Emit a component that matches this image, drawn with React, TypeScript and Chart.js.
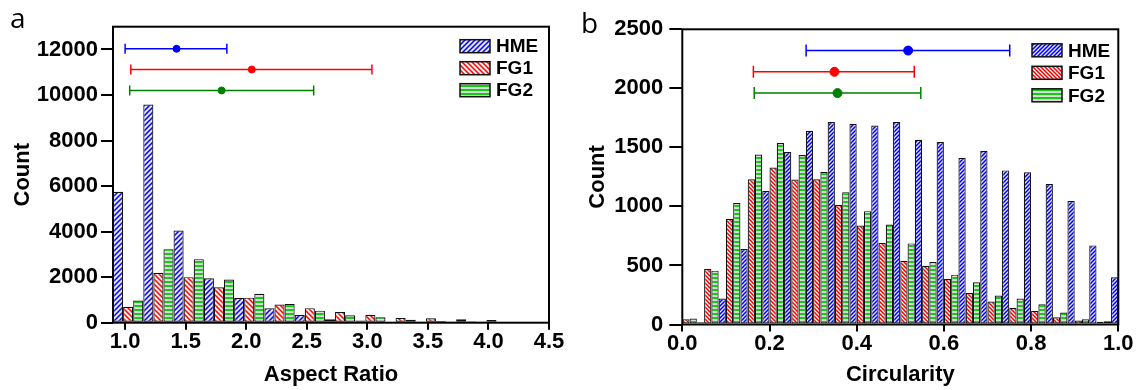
import React, { useEffect, useRef } from 'react';
import { Chart, registerables } from 'chart.js';
Chart.register(...registerables);

const SERIES = ['HME', 'FG1', 'FG2'];

// ---- Panel a: Aspect Ratio ----
const aspectBinCenters = [1.025, 1.275, 1.525, 1.775, 2.025, 2.275, 2.525, 2.775, 3.025, 3.275, 3.525, 3.775, 4.025];
const aspectHME = [5750, 9580, 4050, 1950, 1080, 630, 340, 150, 100, 40, 20, 10, 5];
const aspectFG1 = [700, 2180, 2000, 1560, 1100, 800, 640, 470, 350, 210, 190, 150, 120];
const aspectFG2 = [970, 3230, 2790, 1900, 1270, 820, 530, 325, 240, 130, 80, 60, 40];
const aspectXTicks = [1.0, 1.5, 2.0, 2.5, 3.0, 3.5, 4.0, 4.5];
const aspectYTicks = [0, 2000, 4000, 6000, 8000, 10000, 12000];
const aspectMean = [1.425, 2.046, 1.797];
const aspectLow = [1.0, 1.047, 1.038];
const aspectHigh = [1.84, 3.038, 2.557];
const aspectLevel = [12030, 11120, 10200];

// ---- Panel b: Circularity ----
const circBinCenters = [0.025, 0.075, 0.125, 0.175, 0.225, 0.275, 0.325, 0.375, 0.425, 0.475, 0.525, 0.575, 0.625, 0.675, 0.725, 0.775, 0.825, 0.875, 0.925, 0.975];
const circHME = [20, 220, 640, 1130, 1460, 1640, 1715, 1700, 1685, 1715, 1565, 1545, 1410, 1470, 1305, 1290, 1190, 1045, 670, 400];
const circFG1 = [45, 470, 895, 1230, 1330, 1228, 1230, 1012, 839, 690, 540, 498, 386, 267, 194, 141, 115, 62, 34, 23];
const circFG2 = [50, 456, 1028, 1440, 1537, 1436, 1292, 1121, 960, 847, 687, 529, 422, 358, 245, 220, 172, 101, 45, 28];
const circXTicks = [0, 0.2, 0.4, 0.6, 0.8, 1.0];
const circYTicks = [0, 500, 1000, 1500, 2000, 2500];
const circMean = [0.518, 0.349, 0.356];
const circLow = [0.284, 0.163, 0.165];
const circHigh = [0.751, 0.532, 0.547];
const circLevel = [2320, 2140, 1960];

const FONT = '"Liberation Sans", Arial, sans-serif';
const STRIPE = { HME: '#0000ff', FG1: '#ff0000', FG2: '#11cc11' } as Record<string, string>;
const ERR = ['#0000ff', '#ff0000', '#008000'];

function makePattern(kind: string, fg: string, bg: string, size: number, lw: number) {
  const c = document.createElement('canvas');
  c.width = size; c.height = size;
  const g = c.getContext('2d')!;
  g.fillStyle = bg; g.fillRect(0, 0, size, size);
  g.strokeStyle = fg; g.lineWidth = lw; g.lineCap = 'square';
  g.beginPath();
  if (kind === 'up') {
    for (const o of [-size, 0, size]) { g.moveTo(o - 1, size + 1); g.lineTo(o + size + 1, -1); }
  } else if (kind === 'down') {
    for (const o of [-size, 0, size]) { g.moveTo(o - 1, -1); g.lineTo(o + size + 1, size + 1); }
  } else {
    g.moveTo(-1, size / 2); g.lineTo(size + 1, size / 2);
  }
  g.stroke();
  return g.createPattern(c, 'repeat')!;
}

function makePatterns(diag: number) {
  return {
    HME: makePattern('up', STRIPE.HME, '#e4e4ee', diag, 1.5),
    FG1: makePattern('down', STRIPE.FG1, '#f6eeee', diag, 1.5),
    FG2: makePattern('flat', STRIPE.FG2, '#dcdcdc', 4, 2),
  } as Record<string, CanvasPattern>;
}

function barSet(label: string, centers: number[], values: number[], pat: CanvasPattern) {
  return {
    type: 'bar', label,
    data: centers.map((c, i) => ({ x: c, y: values[i] })),
    backgroundColor: pat, borderColor: '#111', borderWidth: 1.2, borderSkipped: false,
    categoryPercentage: 1, barPercentage: 1, inflateAmount: 0,
  };
}

function errSet(i: number, mean: number[], low: number[], high: number[], level: number[], capR: number, dotR: number) {
  const col = ERR[i];
  return {
    type: 'line', label: 'err' + i, order: -1,
    data: [{ x: low[i], y: level[i] }, { x: mean[i], y: level[i] }, { x: high[i], y: level[i] }],
    borderColor: col, backgroundColor: col, borderWidth: 1.5,
    pointStyle: ['line', 'circle', 'line'], pointRadius: [capR, dotR, capR], pointRotation: [90, 0, 90],
    pointBorderWidth: [1.5, 1, 1.5], pointBorderColor: col, pointBackgroundColor: col,
    fill: false, tension: 0,
  };
}

function framePlugin(pats: Record<string, CanvasPattern>, lg: { right: number; top: number; gap: number }) {
  return {
    id: 'frameLegend',
    afterDraw(chart: any) {
      const { ctx, chartArea: a } = chart;
      ctx.save();
      ctx.strokeStyle = '#000'; ctx.lineWidth = 2;
      ctx.strokeRect(a.left, a.top, a.right - a.left, a.bottom - a.top);
      const bw = 30, bh = 13;
      SERIES.forEach((s, i) => {
        const cy = a.top + lg.top + i * lg.gap;
        const bx = a.right - lg.right;
        ctx.fillStyle = pats[s];
        ctx.fillRect(bx, cy - bh / 2, bw, bh);
        ctx.lineWidth = 1.5; ctx.strokeStyle = '#111';
        ctx.strokeRect(bx, cy - bh / 2, bw, bh);
        ctx.fillStyle = '#000';
        ctx.font = 'bold 19px ' + FONT;
        ctx.textBaseline = 'middle'; ctx.textAlign = 'left';
        ctx.fillText(s, bx + bw + 6, cy + 1);
      });
      ctx.restore();
    },
  };
}

function scales(o: any) {
  const tickFont = { family: FONT, size: 22, weight: 'bold', lineHeight: 1 };
  const titleFont = { family: FONT, size: 22, weight: 'bold', lineHeight: 1.2 };
  return {
    x: {
      type: 'linear', min: o.xmin, max: o.xmax, offset: false,
      afterBuildTicks: (s: any) => { s.ticks = o.xticks.map((v: number) => ({ value: v })); },
      afterFit: (s: any) => { s.height = o.xh; s.paddingLeft = 0; s.paddingRight = 0; },
      grid: { offset: false, drawOnChartArea: false, drawTicks: true, tickLength: 7, color: '#000', lineWidth: 2 },
      border: { display: false },
      ticks: { color: '#000', font: tickFont, padding: 1, maxRotation: 0, autoSkip: false, callback: (v: any) => Number(v).toFixed(1) },
      title: { display: true, text: o.xtitle, color: '#000', font: titleFont, padding: { top: 0, bottom: 2 } },
    },
    y: {
      type: 'linear', min: 0, max: o.ymax,
      afterBuildTicks: (s: any) => { s.ticks = o.yticks.map((v: number) => ({ value: v })); },
      afterFit: (s: any) => { s.width = o.yw; s.paddingTop = 0; s.paddingBottom = 0; },
      grid: { drawOnChartArea: false, drawTicks: true, tickLength: o.ytl, color: '#000', lineWidth: 2 },
      border: { display: false },
      ticks: { color: '#000', font: tickFont, padding: o.ypad, autoSkip: false, callback: (v: any) => String(v) },
      title: { display: true, text: 'Count', color: '#000', font: titleFont, padding: { top: o.ytp, bottom: 0 } },
    },
  };
}

export default function App() {
  const leftRef = useRef<HTMLCanvasElement>(null);
  const rightRef = useRef<HTMLCanvasElement>(null);

  useEffect(() => {
    const pa = makePatterns(5);
    const pb = makePatterns(4);
    const left = new Chart(leftRef.current!, {
      type: 'bar',
      data: {
        datasets: [
          barSet('HME', aspectBinCenters, aspectHME, pa.HME),
          barSet('FG1', aspectBinCenters, aspectFG1, pa.FG1),
          barSet('FG2', aspectBinCenters, aspectFG2, pa.FG2),
          errSet(0, aspectMean, aspectLow, aspectHigh, aspectLevel, 5, 3.5),
          errSet(1, aspectMean, aspectLow, aspectHigh, aspectLevel, 5, 3.5),
          errSet(2, aspectMean, aspectLow, aspectHigh, aspectLevel, 5, 3.5),
        ] as any,
      },
      options: {
        responsive: false, animation: false, events: [],
        layout: { padding: { left: 0, top: 26.7, right: 21, bottom: 0 } },
        plugins: { legend: { display: false }, tooltip: { enabled: false } },
        scales: scales({ xmin: 0.9, xmax: 4.5, xticks: aspectXTicks, xh: 67.3, xtitle: 'Aspect Ratio', ymax: 13000, yticks: aspectYTicks, yw: 113, ytl: 12, ypad: 3, ytp: 9.3 }) as any,
      },
      plugins: [framePlugin(pa, { right: 89, top: 19.5, gap: 22 })],
    });
    const right = new Chart(rightRef.current!, {
      type: 'bar',
      data: {
        datasets: [
          barSet('FG1', circBinCenters, circFG1, pb.FG1),
          barSet('FG2', circBinCenters, circFG2, pb.FG2),
          barSet('HME', circBinCenters, circHME, pb.HME),
          errSet(0, circMean, circLow, circHigh, circLevel, 6, 4.5),
          errSet(1, circMean, circLow, circHigh, circLevel, 6, 4.5),
          errSet(2, circMean, circLow, circHigh, circLevel, 6, 4.5),
        ] as any,
      },
      options: {
        responsive: false, animation: false, events: [],
        layout: { padding: { left: 0, top: 29.3, right: 21.7, bottom: 0 } },
        plugins: { legend: { display: false }, tooltip: { enabled: false } },
        scales: scales({ xmin: 0, xmax: 1, xticks: circXTicks, xh: 65.5, xtitle: 'Circularity', ymax: 2500, yticks: circYTicks, yw: 112.3, ytl: 13, ypad: 6, ytp: 14.3 }) as any,
      },
      plugins: [framePlugin(pb, { right: 86.3, top: 21, gap: 22.5 })],
    });
    return () => { left.destroy(); right.destroy(); };
  }, []);

  return (
    <div style={{ position: 'absolute', left: 0, top: 0, width: 1140, height: 390, background: '#fff', overflow: 'hidden' }}>
      <canvas ref={leftRef} width={570} height={390} style={{ position: 'absolute', left: 0, top: 0 }} />
      <canvas ref={rightRef} width={570} height={390} style={{ position: 'absolute', left: 570, top: 0 }} />
      <div style={{ position: 'absolute', left: 10, top: 3, font: '28px "Open Sans", sans-serif', lineHeight: '28px' }}>a</div>
      <div style={{ position: 'absolute', left: 581, top: 8, font: '28px "Open Sans", sans-serif', lineHeight: '28px' }}>b</div>
    </div>
  );
}
